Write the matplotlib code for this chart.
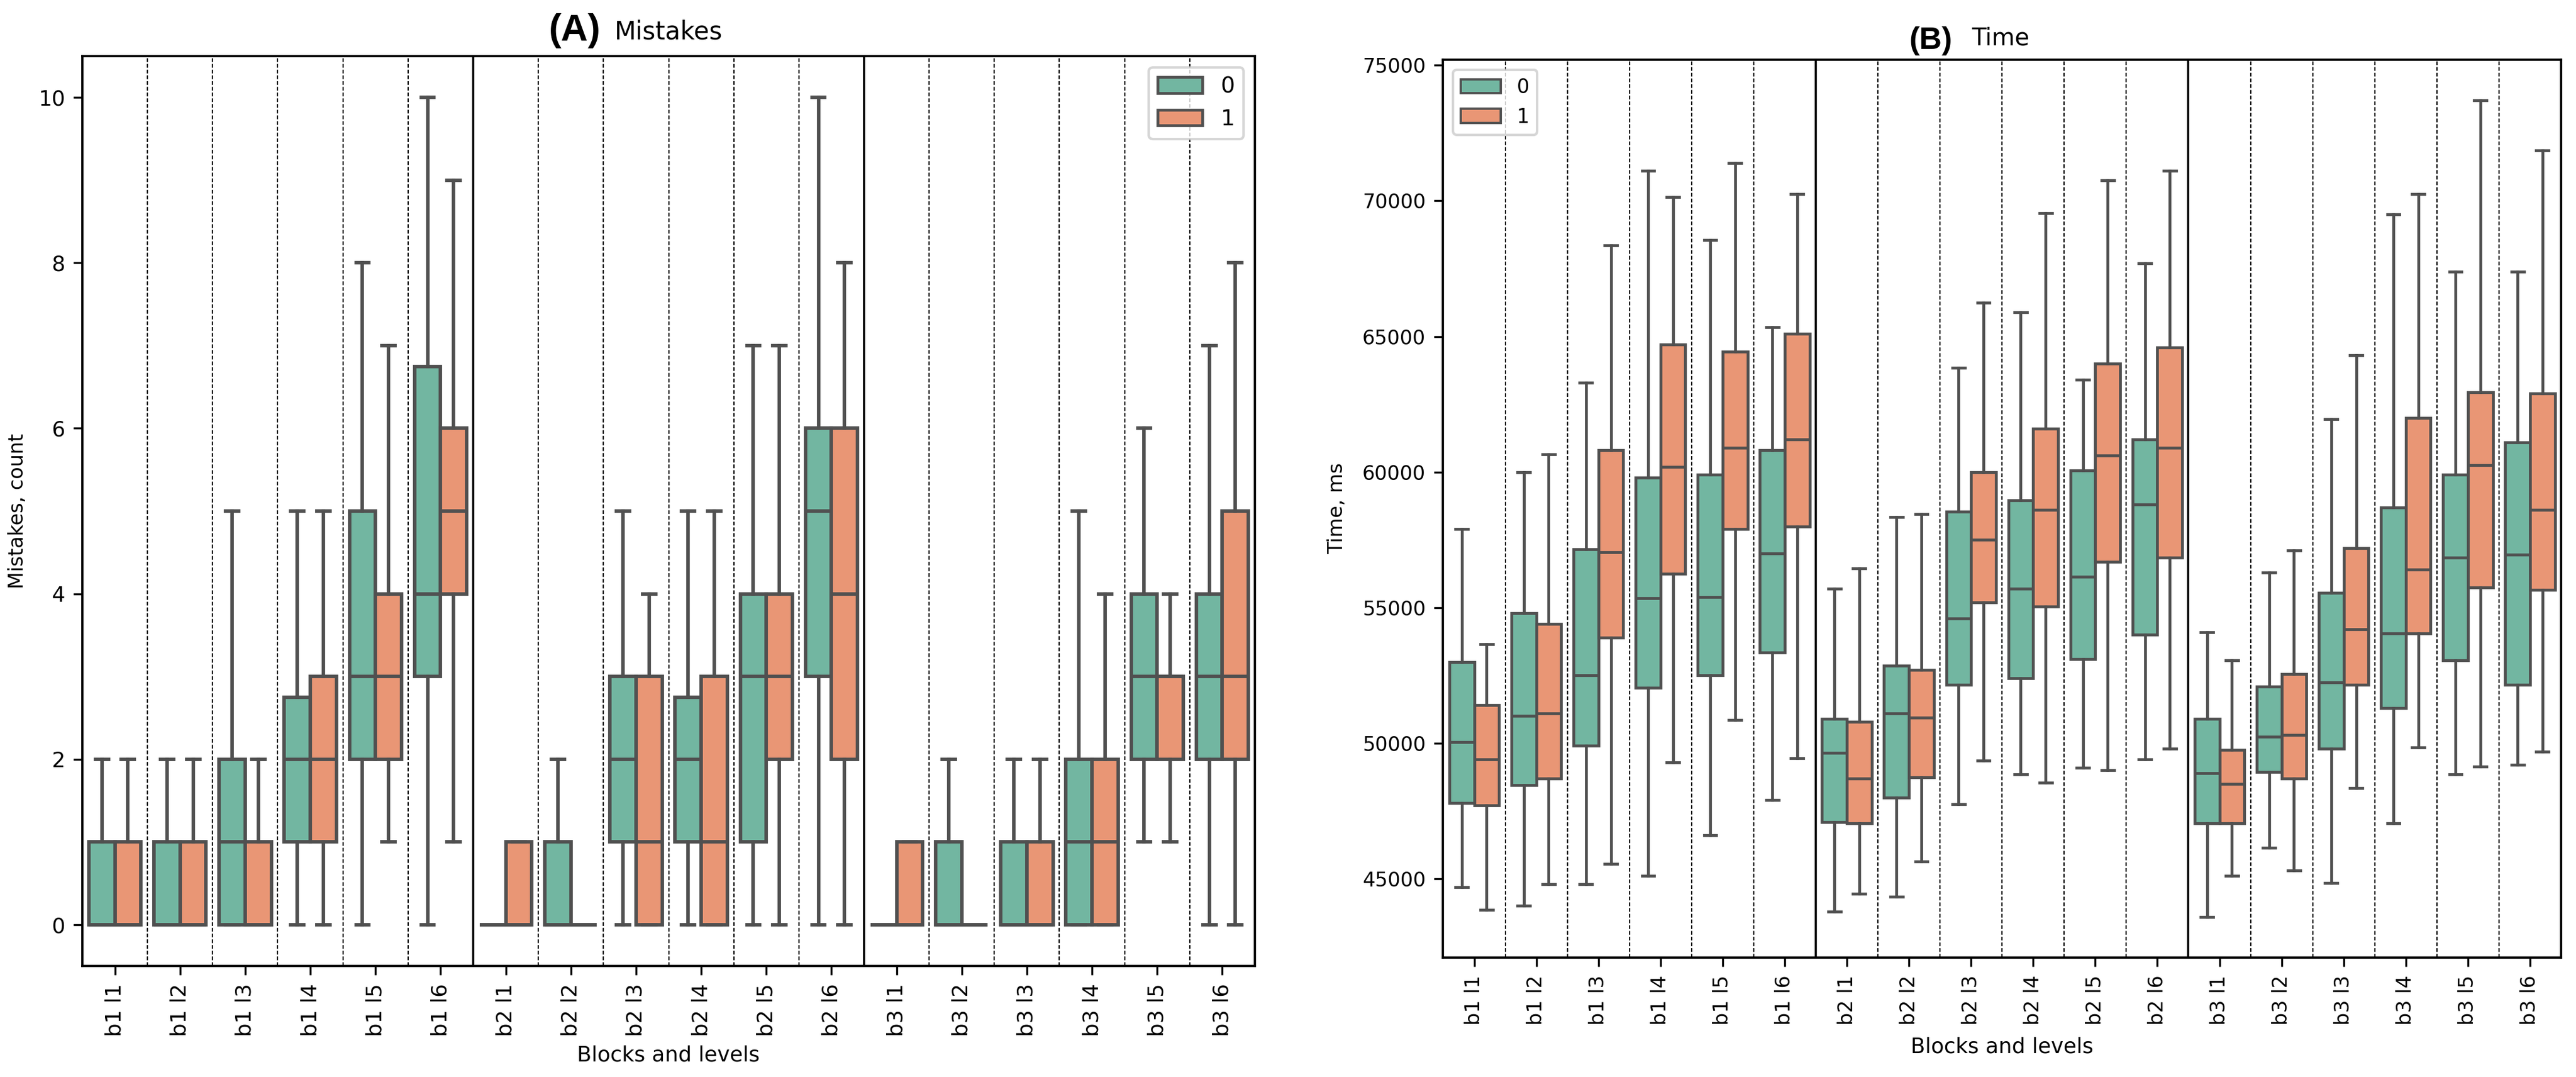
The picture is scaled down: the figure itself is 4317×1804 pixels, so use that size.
import colorsys
import matplotlib.pyplot as plt
import matplotlib.colors as mcolors
from matplotlib.patches import Patch

levels = ["b1 l1", "b1 l2", "b1 l3", "b1 l4", "b1 l5", "b1 l6",
          "b2 l1", "b2 l2", "b2 l3", "b2 l4", "b2 l5", "b2 l6",
          "b3 l1", "b3 l2", "b3 l3", "b3 l4", "b3 l5", "b3 l6"]
groups = ["0", "1"]

# (A) Mistakes, group 0
mis_lo_0 = [0, 0, 0, 0, 0, 0, 0, 0, 0, 0, 0, 0, 0, 0, 0, 0, 1, 0]
mis_q1_0 = [0, 0, 0, 1, 2, 3, 0, 0, 1, 1, 1, 3, 0, 0, 0, 0, 2, 2]
mis_med_0 = [0, 0, 1, 2, 3, 4, 0, 0, 2, 2, 3, 5, 0, 0, 0, 1, 3, 3]
mis_q3_0 = [1, 1, 2, 2.75, 5, 6.75, 0, 1, 3, 2.75, 4, 6, 0, 1, 1, 2, 4, 4]
mis_hi_0 = [2, 2, 5, 5, 8, 10, 0, 2, 5, 5, 7, 10, 0, 2, 2, 5, 6, 7]

# (A) Mistakes, group 1
mis_lo_1 = [0, 0, 0, 0, 1, 1, 0, 0, 0, 0, 0, 0, 0, 0, 0, 0, 1, 0]
mis_q1_1 = [0, 0, 0, 1, 2, 4, 0, 0, 0, 0, 2, 2, 0, 0, 0, 0, 2, 2]
mis_med_1 = [0, 0, 0, 2, 3, 5, 0, 0, 1, 1, 3, 4, 0, 0, 0, 1, 3, 3]
mis_q3_1 = [1, 1, 1, 3, 4, 6, 1, 0, 3, 3, 4, 6, 1, 0, 1, 2, 3, 5]
mis_hi_1 = [2, 2, 2, 5, 7, 9, 1, 0, 4, 5, 7, 8, 1, 0, 2, 4, 4, 8]

# (B) Time, group 0
time_lo_0 = [44700, 44000, 44800, 45100, 46600, 47900, 43800, 44350, 47750,
             48850, 49100, 49400, 43600, 46150, 44850, 47050, 48850, 49200]
time_q1_0 = [47800, 48450, 49900, 52050, 52500, 53350, 47100, 48000, 52150,
             52400, 53100, 54000, 47050, 48950, 49800, 51300, 53050, 52150]
time_med_0 = [50050, 51000, 52500, 55350, 55400, 57000, 49650, 51100, 54600,
              55700, 56150, 58800, 48900, 50250, 52250, 54050, 56850, 56950]
time_q3_0 = [53000, 54800, 57150, 59800, 59900, 60800, 50900, 52850, 58550,
             58950, 60050, 61200, 50900, 52100, 55550, 58700, 59900, 61100]
time_hi_0 = [57900, 60000, 63300, 71100, 68550, 65350, 55700, 58350, 63850,
             65900, 63400, 67700, 54100, 56300, 61950, 69500, 67400, 67400]

# (B) Time, group 1
time_lo_1 = [43850, 44800, 45550, 49300, 50850, 49450, 44450, 45650, 49350,
             48550, 49000, 49800, 45100, 45300, 48350, 49850, 49150, 49700]
time_q1_1 = [47700, 48700, 53900, 56250, 57900, 58000, 47050, 48750, 55200,
             55050, 56700, 56850, 47050, 48700, 52150, 54050, 55750, 55650]
time_med_1 = [49400, 51100, 57050, 60200, 60900, 61200, 48700, 50950, 57500,
              58600, 60600, 60900, 48500, 50300, 54200, 56400, 60250, 58600]
time_q3_1 = [51400, 54400, 60800, 64700, 64450, 65100, 50800, 52700, 60000,
             61600, 64000, 64600, 49750, 52550, 57200, 62000, 62950, 62900]
time_hi_1 = [53650, 60650, 68350, 70150, 71400, 70250, 56450, 58450, 66250,
             69550, 70750, 71100, 53050, 57100, 64300, 70250, 73700, 71850]


def desaturate(color, prop):
    r, g, b = mcolors.to_rgb(color)
    h, l, s = colorsys.rgb_to_hls(r, g, b)
    return colorsys.hls_to_rgb(h, l, s * prop)


box_colors = [desaturate("#66c2a5", 0.75), desaturate("#fc8d62", 0.75)]
line_gray = "#505050"


def make_stats(lo, q1, med, q3, hi):
    return [dict(whislo=a, q1=b, med=c, q3=d, whishi=e, fliers=[])
            for a, b, c, d, e in zip(lo, q1, med, q3, hi)]


def draw_panel(ax, series, fs, lw, legend_fs, legend_loc):
    for k, (stats, color) in enumerate(zip(series, box_colors)):
        pos = [i - 0.2 + 0.4 * k for i in range(len(levels))]
        ax.bxp(
            stats, positions=pos, widths=0.4, patch_artist=True,
            showfliers=False, manage_ticks=False,
            boxprops=dict(facecolor=color, edgecolor=line_gray, linewidth=lw),
            medianprops=dict(color=line_gray, linewidth=lw),
            whiskerprops=dict(color=line_gray, linewidth=lw),
            capprops=dict(color=line_gray, linewidth=lw),
        )

    # separators between levels (dashed) and between blocks (solid)
    for i in range(len(levels) - 1):
        if i in (5, 11):
            ax.axvline(i + 0.5, color="black", linewidth=0.85, zorder=0)
        else:
            ax.axvline(i + 0.5, color="black", linewidth=0.5,
                       linestyle=(0, (3, 1.6)), zorder=0)

    ax.set_xlim(-0.5, len(levels) - 0.5)
    lo = min(min(s["whislo"] for s in st) for st in series)
    hi = max(max(s["whishi"] for s in st) for st in series)
    pad = (hi - lo) * 0.05
    ax.set_ylim(lo - pad, hi + pad)

    ax.set_xticks(range(len(levels)))
    ax.set_xticklabels(levels, rotation=90, fontsize=fs)
    ax.tick_params(axis="y", labelsize=fs)
    ax.tick_params(length=3.5, width=0.8)
    for spine in ax.spines.values():
        spine.set_linewidth(0.9)

    handles = [Patch(facecolor=c, edgecolor=line_gray, linewidth=lw * 0.8)
               for c in box_colors]
    ax.legend(handles, groups, loc=legend_loc, fontsize=legend_fs)


W, H = 4317, 1804
fig = plt.figure(figsize=(W / 300, H / 300), dpi=300)
fig.patch.set_facecolor("white")

ax_a = fig.add_axes([138 / W, 1 - 1618 / H, 1965 / W, 1524 / H])
ax_b = fig.add_axes([2418.5 / W, 1 - 1604 / H, 1873.5 / W, 1504 / H])

mis_series = [
    make_stats(mis_lo_0, mis_q1_0, mis_med_0, mis_q3_0, mis_hi_0),
    make_stats(mis_lo_1, mis_q1_1, mis_med_1, mis_q3_1, mis_hi_1),
]
time_series = [
    make_stats(time_lo_0, time_q1_0, time_med_0, time_q3_0, time_hi_0),
    make_stats(time_lo_1, time_q1_1, time_med_1, time_q3_1, time_hi_1),
]

draw_panel(ax_a, mis_series, 8.5, 1.4, 9, "upper right")
draw_panel(ax_b, time_series, 8, 1.15, 8, "upper left")

ax_a.set_yticks([0, 2, 4, 6, 8, 10])
ax_b.set_yticks([45000, 50000, 55000, 60000, 65000, 70000, 75000])

ax_a.set_ylabel("Mistakes, count", fontsize=8)
ax_a.yaxis.set_label_coords(-0.047, 0.5)
ax_a.set_xlabel("Blocks and levels", fontsize=8.5)
ax_a.xaxis.set_label_coords(0.5, -0.087)

ax_b.set_ylabel("Time, ms", fontsize=8)
ax_b.yaxis.set_label_coords(-0.086, 0.5)
ax_b.set_xlabel("Blocks and levels", fontsize=8.5)
ax_b.xaxis.set_label_coords(0.5, -0.088)

fig.text(1007 / W, 1 - 68 / H, "(A)", ha="right", va="baseline",
         fontsize=15, fontweight="bold", family="Liberation Sans")
fig.text(1030 / W, 1 - 65 / H, "Mistakes", ha="left", va="baseline",
         fontsize=10)
fig.text(3272 / W, 1 - 82 / H, "(B)", ha="right", va="baseline",
         fontsize=12.5, fontweight="bold", family="Liberation Sans")
fig.text(3304 / W, 1 - 75 / H, "Time", ha="left", va="baseline",
         fontsize=9.5)

plt.savefig("out.png", dpi=300, facecolor=fig.get_facecolor())
